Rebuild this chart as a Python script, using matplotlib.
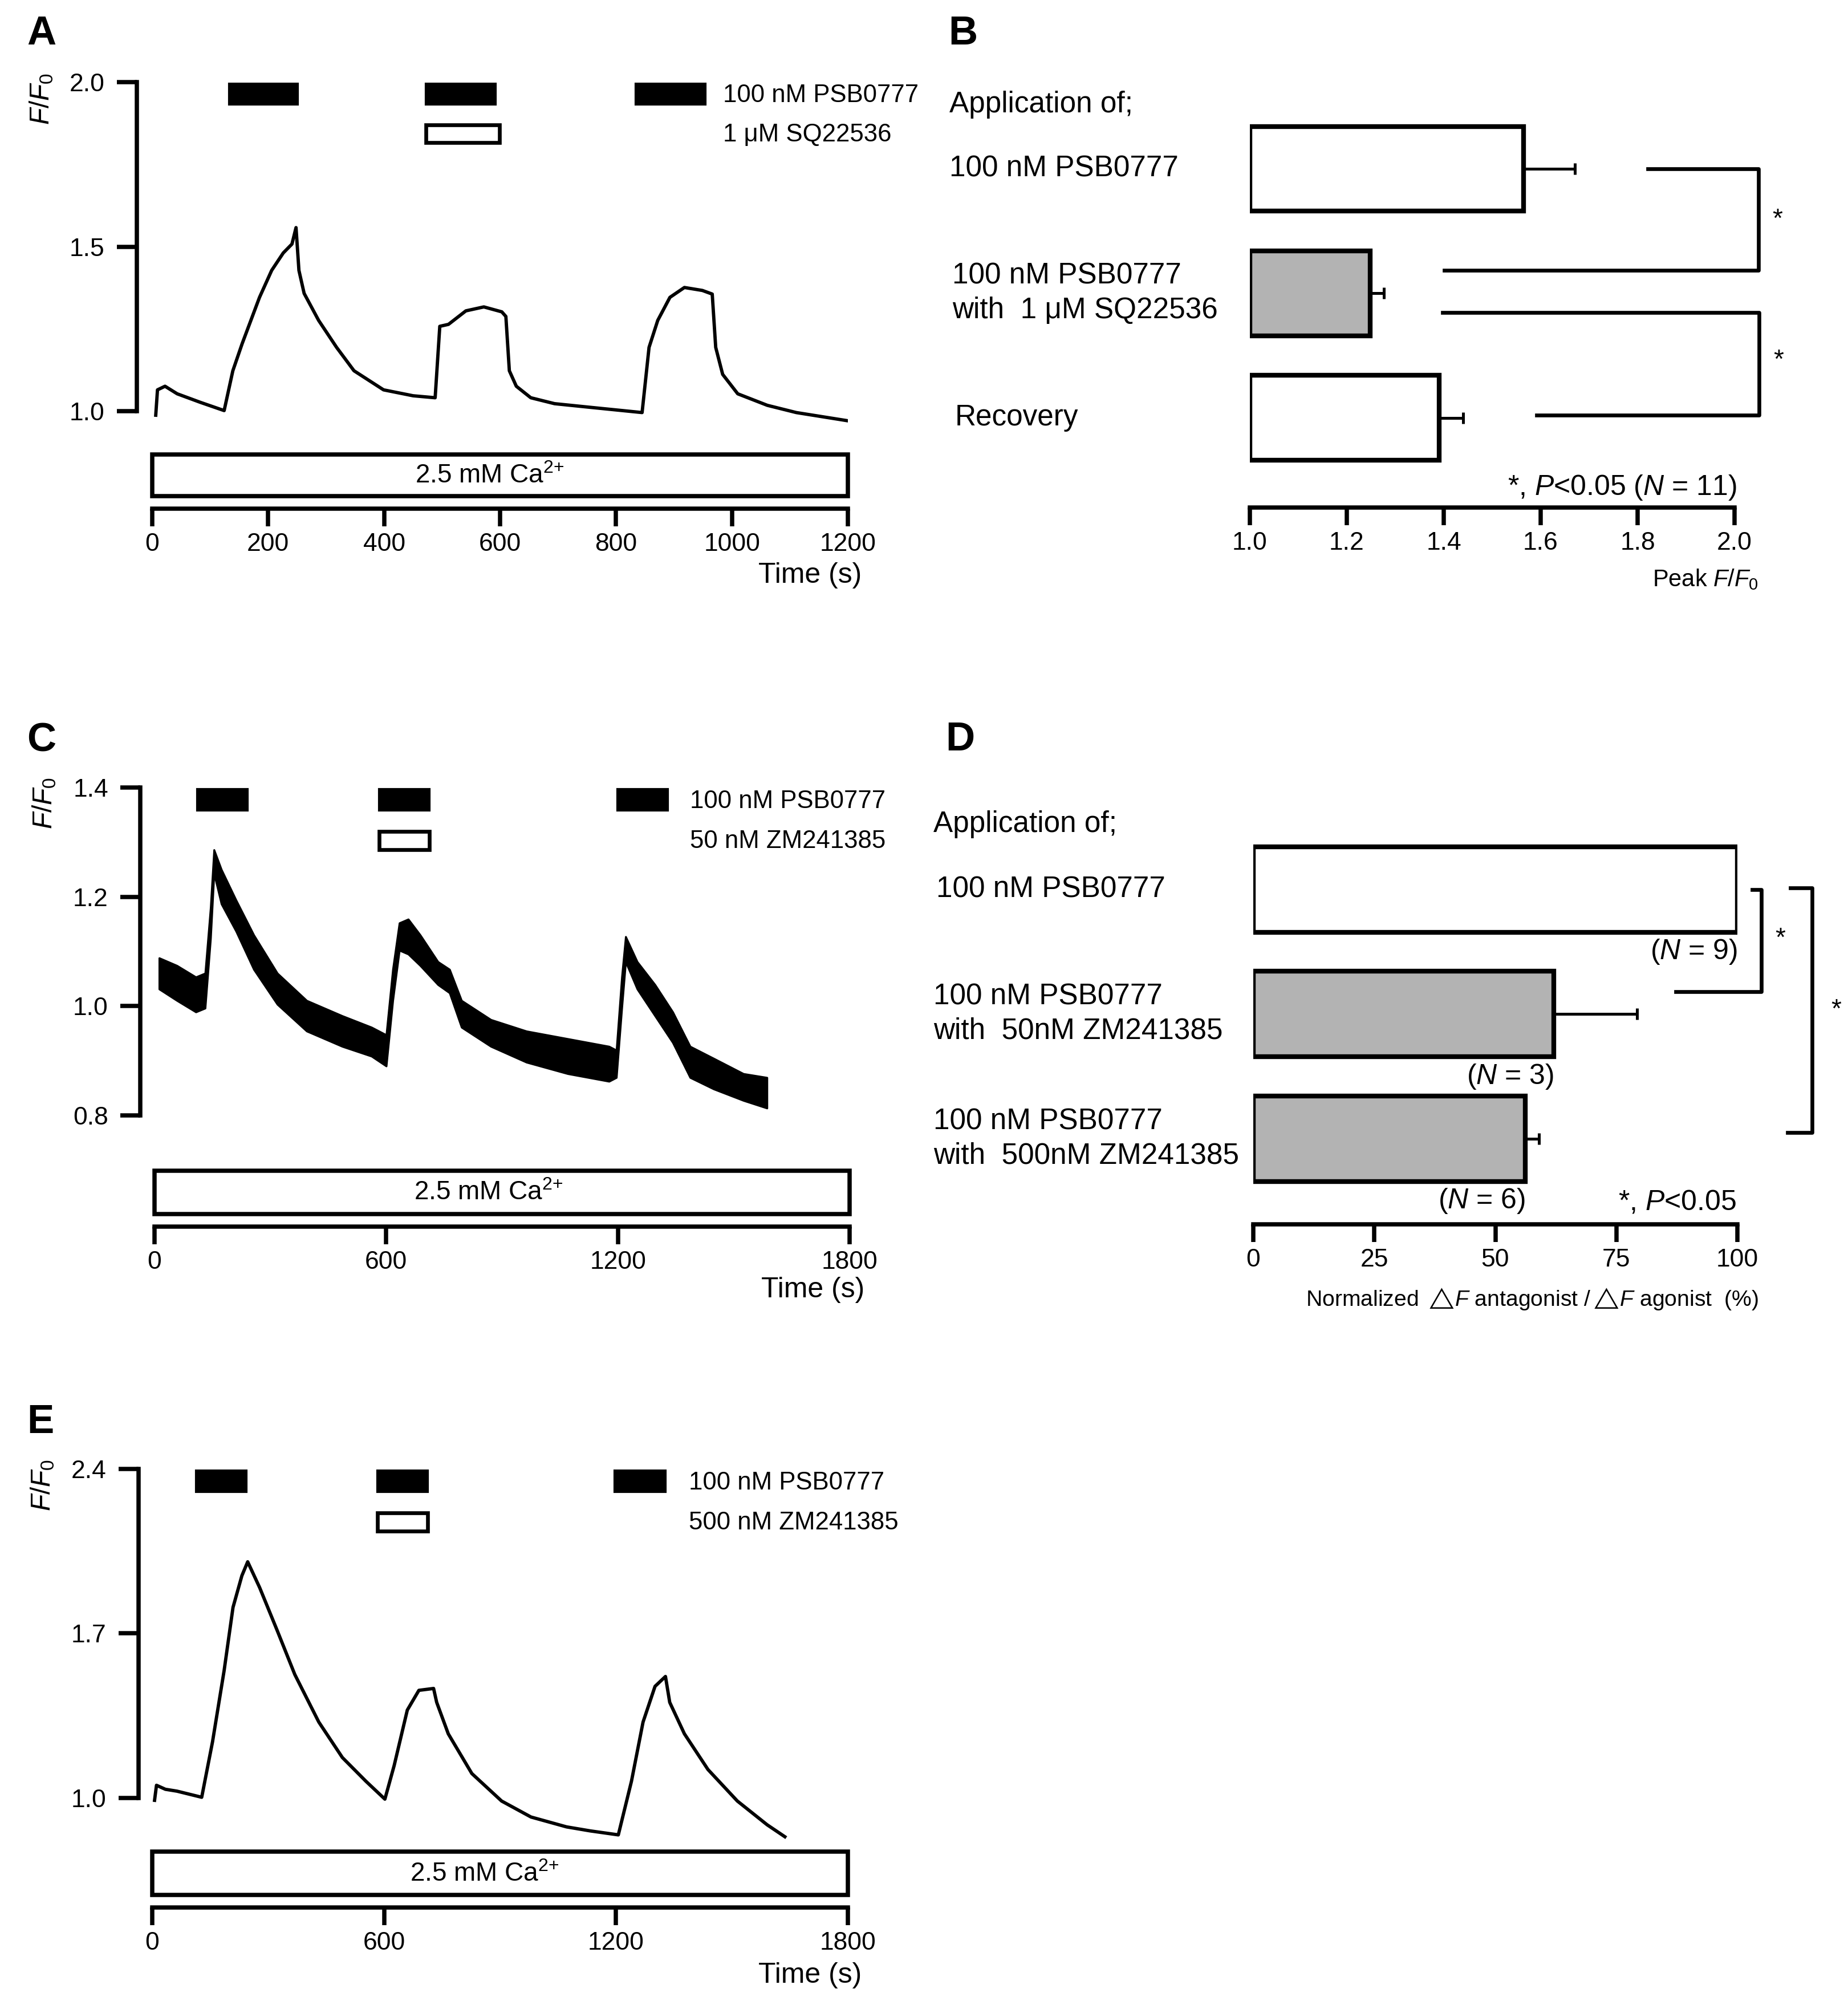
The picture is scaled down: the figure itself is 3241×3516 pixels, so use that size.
import matplotlib
matplotlib.use("Agg")
import matplotlib.pyplot as plt
from matplotlib.patches import Rectangle
from matplotlib.transforms import blended_transform_factory

plt.rcParams['font.family'] = ['Liberation Sans', 'DejaVu Sans']
plt.rcParams['mathtext.fontset'] = 'custom'
plt.rcParams['mathtext.rm'] = 'Liberation Sans'
plt.rcParams['mathtext.it'] = 'Liberation Sans:italic'
plt.rcParams['mathtext.bf'] = 'Liberation Sans:bold'

W, H = 3241, 3516
DPI = 300

# panel A trace, F/F0 vs time (s)
a_time = [6, 9, 22, 43, 83, 124, 139, 155, 185, 206, 226, 241, 248, 253, 262, 287, 318,
          348, 399, 450, 488, 496, 511, 541, 572, 603, 610, 616, 628, 653, 694, 755, 845,
          857, 872, 893, 918, 949, 966, 972, 984, 1010, 1061, 1111, 1200]
a_ratio = [0.988, 1.065, 1.076, 1.053, 1.027, 1.002, 1.123, 1.205, 1.346, 1.428, 1.481,
           1.508, 1.558, 1.428, 1.358, 1.276, 1.194, 1.123, 1.065, 1.047, 1.041, 1.258,
           1.264, 1.305, 1.317, 1.302, 1.288, 1.123, 1.076, 1.041, 1.023, 1.012, 0.996,
           1.194, 1.276, 1.346, 1.376, 1.367, 1.356, 1.194, 1.112, 1.053, 1.018, 0.996, 0.971]
a_psb_on = [133, 472, 834]
a_psb_off = [251, 592, 954]
a_block = [472, 599]

# panel C trace is noisy: lower and upper edge of the trace
c_time = [12, 58, 107, 131, 145, 154, 173, 211, 257, 318, 394, 486, 562, 600, 617, 634,
          657, 688, 734, 764, 795, 871, 963, 1070, 1177, 1196, 1210, 1220, 1250, 1296,
          1342, 1387, 1448, 1525, 1586]
c_low = [1.031, 1.010, 0.989, 0.996, 1.123, 1.243, 1.187, 1.137, 1.067, 1.003, 0.954,
         0.926, 0.908, 0.890, 1.010, 1.102, 1.095, 1.074, 1.039, 1.024, 0.961, 0.926,
         0.897, 0.876, 0.862, 0.869, 0.996, 1.081, 1.031, 0.982, 0.933, 0.869, 0.848,
         0.827, 0.813]
c_high = [1.088, 1.074, 1.053, 1.060, 1.180, 1.286, 1.250, 1.194, 1.130, 1.060, 1.010,
          0.982, 0.961, 0.947, 1.067, 1.152, 1.159, 1.130, 1.081, 1.067, 1.010, 0.975,
          0.954, 0.940, 0.926, 0.919, 1.053, 1.127, 1.081, 1.039, 0.989, 0.926, 0.904,
          0.876, 0.869]
c_psb_on = [111, 582, 1199]
c_psb_off = [241, 712, 1329]
c_block = [582, 712]

# panel E trace
e_time = [6, 11, 34, 64, 128, 156, 186, 209, 232, 247, 278, 324, 369, 431, 492, 553, 602,
          626, 660, 690, 728, 736, 766, 827, 904, 980, 1072, 1133, 1206, 1240, 1270, 1301,
          1328, 1339, 1377, 1438, 1514, 1591, 1637]
e_ratio = [0.990, 1.054, 1.037, 1.029, 1.003, 1.239, 1.542, 1.811, 1.946, 2.005, 1.895,
           1.710, 1.525, 1.323, 1.172, 1.071, 0.995, 1.138, 1.374, 1.458, 1.466, 1.407,
           1.273, 1.104, 0.987, 0.919, 0.877, 0.860, 0.843, 1.071, 1.323, 1.475, 1.517,
           1.407, 1.273, 1.121, 0.987, 0.886, 0.835]
e_psb_on = [113, 583, 1197]
e_psb_off = [243, 713, 1328]
e_block = [583, 713]

# panel B, peak F/F0
b_groups = ['100 nM PSB0777', '100 nM PSB0777\nwith  1 μM SQ22536', 'Recovery']
b_peak = [1.565, 1.248, 1.390]
b_sem = [0.106, 0.028, 0.050]
b_colors = ['white', '#b3b3b3', 'white']

# panel D, normalized dF antagonist / dF agonist (%)
d_groups = ['100 nM PSB0777', '100 nM PSB0777\nwith  50nM ZM241385',
            '100 nM PSB0777\nwith  500nM ZM241385']
d_norm = [100, 62.1, 56.2]
d_sem = [0, 17.2, 2.8]
d_n = [9, 3, 6]
d_colors = ['white', '#b3b3b3', '#b3b3b3']

fig = plt.figure(figsize=(W / DPI, H / DPI), dpi=DPI)


def fx(px):
    return px / W


def fy(py):
    return 1 - py / H


def add_ax(left, right, top, bottom):
    return fig.add_axes([fx(left), fy(bottom), fx(right) - fx(left), fy(top) - fy(bottom)])


def trace_panel(box, xlim, ylim, yticks, xticks, psb_on, psb_off, block, names, name_x, ca_x):
    ax = add_ax(*box)
    ax.set_xlim(*xlim)
    ax.set_ylim(*ylim)
    for side in ('top', 'right'):
        ax.spines[side].set_visible(False)
    for side in ('left', 'bottom'):
        ax.spines[side].set_linewidth(1.8)
    ax.spines['left'].set_bounds(yticks[0], yticks[-1])
    ax.spines['bottom'].set_bounds(xticks[0], xticks[-1])
    ax.set_yticks(yticks, [f'{y:.1f}' for y in yticks])
    ax.set_xticks(xticks, [str(x) for x in xticks])
    ax.tick_params(direction='out', width=1.8, labelsize=10.7)
    ax.tick_params(axis='y', length=8.5, pad=5)
    ax.tick_params(axis='x', length=7.5, pad=2.5)
    tr = ax.get_xaxis_transform()
    for t0, t1 in zip(psb_on, psb_off):
        ax.add_patch(Rectangle((t0, 0.948), t1 - t0, 0.048, transform=tr, fc='black',
                               ec='black', lw=1, clip_on=False))
    ax.add_patch(Rectangle((block[0], 0.858), block[1] - block[0], 0.042, transform=tr,
                           fc='white', ec='black', lw=1.6, clip_on=False))
    ax.text(name_x, 0.968, names[0], transform=tr, ha='left', va='center', fontsize=10.5)
    ax.text(name_x, 0.877, names[1], transform=tr, ha='left', va='center', fontsize=10.5)
    ax.add_patch(Rectangle((0, 0.029), xticks[-1], 0.098, transform=tr, fc='white',
                           ec='black', lw=1.8, clip_on=False))
    ax.text(ca_x, 0.076, r'2.5 mM Ca$^{\text{2+}}$', transform=tr, ha='center',
            va='center', fontsize=11)
    return ax


# ---- A
ax_a = trace_panel((240, 1487, 144, 892), (-26.6, 1200), (0.704, 2.0), [1.0, 1.5, 2.0],
                   [0, 200, 400, 600, 800, 1000, 1200], a_psb_on, a_psb_off, a_block,
                   ['100 nM PSB0777', '1 μM SQ22536'], 985, 582)
ax_a.plot(a_time, a_ratio, color='black', lw=1.4)

# ---- C
ax_c = trace_panel((246, 1490, 1381, 2151), (-36.9, 1800), (0.596, 1.4), [0.8, 1.0, 1.2, 1.4],
                   [0, 600, 1200, 1800], c_psb_on, c_psb_off, c_block,
                   ['100 nM PSB0777', '50 nM ZM241385'], 1387, 865)
ax_c.fill_between(c_time, c_low, c_high, color='black', lw=0.8)

# ---- E
ax_e = trace_panel((243, 1487, 2576, 3345), (-35.4, 1800), (0.534, 2.4), [1.0, 1.7, 2.4],
                   [0, 600, 1200, 1800], e_psb_on, e_psb_off, e_block,
                   ['100 nM PSB0777', '500 nM ZM241385'], 1389, 860)
ax_e.plot(e_time, e_ratio, color='black', lw=1.4)

for cx, cy in [(73, 173), (78, 1408), (75, 2604)]:
    fig.text(fx(cx), fy(cy), r'$F/F_0$', rotation=90, ha='center', va='center', fontsize=11.5)
for rx, ry in [(1511, 1009), (1516, 2262), (1511, 3464)]:
    fig.text(fx(rx), fy(ry), 'Time (s)', ha='right', va='center', fontsize=12)


def bar_axes(ax, ticks, fmt):
    for side in ('top', 'right', 'left'):
        ax.spines[side].set_visible(False)
    ax.spines['bottom'].set_linewidth(1.8)
    ax.set_yticks([])
    ax.set_xticks(ticks, [fmt.format(t) for t in ticks])
    ax.tick_params(axis='x', direction='out', length=7.5, width=1.8, labelsize=10.7, pad=2.5)


# ---- B
ax_b = add_ax(2192, 3042, 150, 890)
ax_b.set_xlim(1.0, 2.0)
ax_b.set_ylim(2.72, -0.668)
bar_axes(ax_b, [1.0, 1.2, 1.4, 1.6, 1.8, 2.0], '{:.1f}')
b_pos = list(range(len(b_peak)))
ax_b.barh(b_pos, [p - 1.0 for p in b_peak], left=1.0, height=0.68, color=b_colors,
          edgecolor='black', linewidth=2, zorder=2)
ax_b.errorbar(b_peak, b_pos, xerr=[[0] * len(b_sem), b_sem], fmt='none', ecolor='black',
              elinewidth=1.2, capsize=2.5, capthick=1.2, zorder=3)
tb = blended_transform_factory(fig.transFigure, ax_b.transData)
ax_b.text(fx(1665), -0.513, 'Application of;', transform=tb, ha='left', va='center', fontsize=12.3)
for lx, pos, name in zip([1665, 1670, 1675], b_pos, b_groups):
    ax_b.text(fx(lx), pos, name, transform=tb, ha='left', va='center', fontsize=12.3,
              linespacing=1.3)
for xs, ys, star in [([1.821, 2.049, 2.049, 1.401], [0, 0, 0.815, 0.815], (2.089, 0.41)),
                     ([1.398, 2.051, 2.051, 1.592], [1.153, 1.153, 1.977, 1.977], (2.091, 1.54))]:
    ax_b.plot(xs, ys, color='black', lw=1.6, clip_on=False)
    ax_b.text(star[0], star[1], '*', ha='center', va='center', fontsize=11)
ax_b.text(2.004, 2.56, r'*, $P$<0.05 ($N$ = 11)', ha='right', va='center', fontsize=12)
fig.text(fx(3084), fy(1016), r'Peak $F/F_0$', ha='right', va='center', fontsize=10)

# ---- D
ax_d = add_ax(2198, 3047, 1400, 2147)
ax_d.set_xlim(0, 100)
ax_d.set_ylim(2.687, -0.73)
bar_axes(ax_d, [0, 25, 50, 75, 100], '{:d}')
d_pos = list(range(len(d_norm)))
ax_d.barh(d_pos, d_norm, height=0.686, color=d_colors, edgecolor='black', linewidth=2, zorder=2)
err_pos = [p for p, s in zip(d_pos, d_sem) if s > 0]
ax_d.errorbar([d_norm[p] for p in err_pos], err_pos,
              xerr=[[0] * len(err_pos), [d_sem[p] for p in err_pos]], fmt='none',
              ecolor='black', elinewidth=1.2, capsize=2.5, capthick=1.2, zorder=3)
for pos, val, n in zip(d_pos, d_norm, d_n):
    ax_d.text(val, pos + 0.5, f'($N$ = {n})', ha='right', va='center', fontsize=12)
td = blended_transform_factory(fig.transFigure, ax_d.transData)
ax_d.text(fx(1637), -0.52, 'Application of;', transform=td, ha='left', va='center', fontsize=12.3)
for lx, pos, name in zip([1642, 1637, 1637], d_pos, d_groups):
    ax_d.text(fx(lx), pos, name, transform=td, ha='left', va='center', fontsize=12.3,
              linespacing=1.3)
for xs, ys, star in [([103.1, 105.0, 105.0, 87.3], [0, 0, 0.82, 0.82], (108.9, 0.4)),
                     ([111.0, 115.4, 115.4, 110.4], [-0.01, -0.01, 1.95, 1.95], (120.4, 0.97))]:
    ax_d.plot(xs, ys, color='black', lw=1.6, clip_on=False)
    ax_d.text(star[0], star[1], '*', ha='center', va='center', fontsize=11)
ax_d.text(99.8, 2.51, r'*, $P$<0.05', ha='right', va='center', fontsize=12)
fig.text(fx(3084), fy(2278),
         r'Normalized $\triangle\!F$ antagonist /$\triangle\!F$ agonist  (%)',
         ha='right', va='center', fontsize=9.4)

# panel letters
for letter, lx, base in [('A', 47, 78), ('B', 1663, 78), ('C', 47, 1318), ('D', 1658, 1316),
                         ('E', 47, 2513)]:
    fig.text(fx(lx), fy(base), letter, fontsize=17, fontweight='bold', ha='left', va='baseline')

fig.savefig('out.png', dpi=DPI)
